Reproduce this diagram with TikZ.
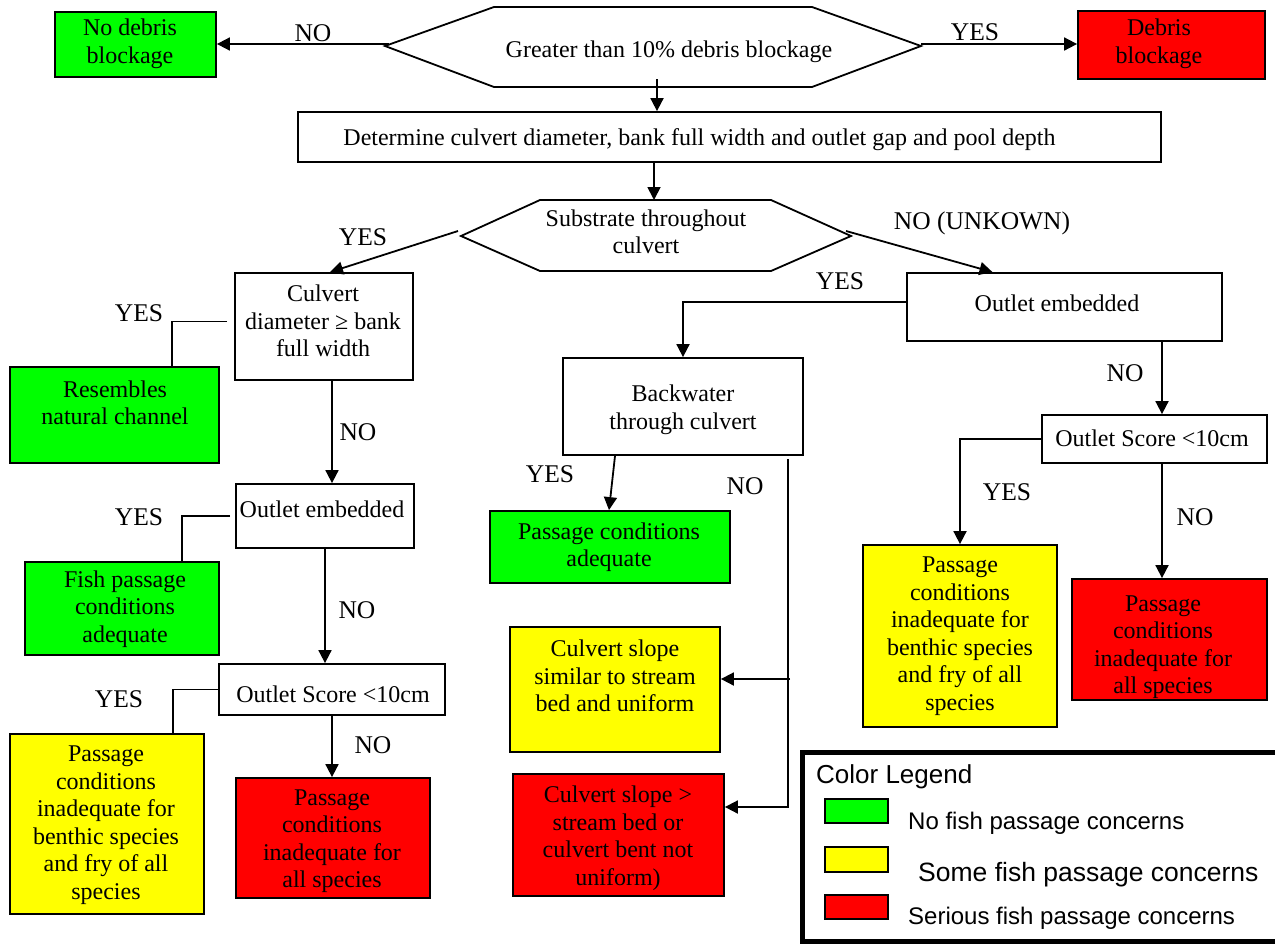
\documentclass[tikz,border=0pt]{standalone}
\usepackage{fontspec}
\setmainfont{Liberation Serif}
\newfontfamily\legfont{Liberation Sans}
\usetikzlibrary{arrows.meta,fit}
\definecolor{bgreen}{RGB}{0,255,0}
\definecolor{bred}{RGB}{255,0,0}
\definecolor{byellow}{RGB}{255,255,0}
\begin{document}
\begin{tikzpicture}[x=1pt,y=-1pt,
  box/.style={draw=black, line width=1.8pt, inner sep=0pt},
  txt/.style={align=center, inner sep=0pt, font=\fontsize{24}{27.5}\selectfont},
  lbl/.style={inner sep=0pt, font=\fontsize{25.5}{28}\selectfont},
  conn/.style={line width=1.8pt, line join=miter},
  arr/.style={conn, -{Triangle[length=13pt,width=13pt]}},
  legtxt/.style={anchor=base west, inner sep=0pt},
  swatch/.style={draw=black, line width=1.5pt, inner sep=0pt}
]
\useasboundingbox (0,0) rectangle (1275,943);
\fill[white] (0,0) rectangle (1275,943);

% ---------- top decision ----------
\coordinate (h1w) at (385,46);
\coordinate (h1e) at (921,46);
\coordinate (h1no) at (389,44);
\coordinate (h1yes) at (921,44);
\coordinate (h1s) at (657,79);
\draw[conn] (h1w) -- (494,7) -- (812,7) -- (h1e) -- (812,87) -- (494,87) -- cycle;
\node[txt] (h1-t) at (669,52) {Greater than 10\% debris blockage};

\node[box, fill=bgreen, fit={(55,12)(216,77)}] (nodeb) {};
\node[txt] (nodeb-t) at (130,44) {No debris\\blockage};
\node[box, fill=bred, fit={(1078,11)(1265,79)}] (deb) {};
\node[txt] (deb-t) at (1159,44) {Debris\\blockage};

\draw[arr] (h1no) -- (nodeb.east |- h1no);
\draw[arr] (h1yes) -- (deb.west |- h1yes);
\node[lbl] (l-no1) at (313,33) {NO};
\node[lbl] (l-yes1) at (975,32) {YES};

% ---------- determine ----------
\node[box, fit={(298,112)(1161,162)}] (det) {};
\node[txt] (det-t) at (699.5,140) {Determine culvert diameter, bank full width and outlet gap and pool depth};
\draw[arr] (h1s) -- (h1s |- det.north);

% ---------- substrate decision ----------
\coordinate (h2w) at (461,236);
\coordinate (h2e) at (851,236);
\coordinate (h2n) at (654,200);
\coordinate (h2yes) at (458,231);
\coordinate (h2no) at (846,231);
\draw[conn] (h2w) -- (540,200) -- (771,200) -- (h2e) -- (771,271) -- (540,271) -- cycle;
\node[txt] (h2-t) at (646,232) {Substrate throughout\\culvert};
\draw[arr] (h2n |- det.south) -- (h2n);

% ---------- left column ----------
\node[box, fit={(235,273)(413,380)}] (culv) {};
\node[txt] (culv-t) at (323,321) {Culvert\\diameter ≥ bank\\full width};
\node[box, fill=bgreen, fit={(10,367)(219,463)}] (res) {};
\node[txt] (res-t) at (115,403) {Resembles\\natural channel};
\node[box, fit={(236,484)(414,548)}] (oel) {};
\node[txt] (oel-t) at (322,509) {Outlet embedded};
\node[box, fill=bgreen, fit={(25,562)(219,655)}] (fish) {};
\node[txt] (fish-t) at (125,609) {Fish passage\\conditions\\adequate};
\node[box, fit={(219,664)(445,715)}] (osl) {};
\node[txt] (osl-t) at (333,694) {Outlet Score <10cm};
\node[box, fill=byellow, fit={(10,734)(204,914)}] (yl) {};
\node[txt] (yl-t) at (106,825) {Passage\\conditions\\inadequate for\\benthic species\\and fry of all\\species};
\node[box, fill=bred, fit={(236,778)(430,898)}] (rl) {};
\node[txt] (rl-t) at (332,841) {Passage\\conditions\\inadequate for\\all species};

\draw[arr] (h2yes) -- ([xshift=6pt]culv.north);
\node[lbl] (l-yes2) at (363,237) {YES};
\draw[conn] ([xshift=-7pt,yshift=5pt]culv.west) -| ([xshift=57.5pt]res.north);
\node[lbl] (l-yes3) at (139,313) {YES};
\draw[arr] ([xshift=8pt]culv.south) -- ([xshift=8pt]culv.south |- oel.north);
\node[lbl] (l-no3) at (358,432) {NO};
\draw[conn] ([xshift=-5pt]oel.west) -| ([xshift=60pt]fish.north);
\node[lbl] (l-yes4) at (139,517) {YES};
\draw[arr] (oel.south) -- (oel.south |- osl.north);
\node[lbl] (l-no4) at (357,610) {NO};
\draw[conn] (osl.west) -| ([xshift=66pt]yl.north);
\node[lbl] (l-yes5) at (119,699) {YES};
\draw[arr] (osl.south) -- (osl.south |- rl.north);
\node[lbl] (l-no5) at (373,745) {NO};

% ---------- right / middle ----------
\node[box, fit={(907,273)(1222,341)}] (oer) {};
\node[txt] (oer-t) at (1057,303) {Outlet embedded};
\node[box, fit={(563,358)(803,455)}] (back) {};
\node[txt] (back-t) at (683,410) {Backwater\\through culvert};
\node[box, fill=bgreen, fit={(490,511)(730,583)}] (gm) {};
\node[txt] (gm-t) at (609,547) {Passage conditions\\adequate};
\node[box, fill=byellow, fit={(510,627)(720,752)}] (ym) {};
\node[txt] (ym-t) at (615,676) {Culvert slope\\similar to stream\\bed and uniform};
\node[box, fill=bred, fit={(513,774)(724,896)}] (rm) {};
\node[txt] (rm-t) at (618,838) {Culvert slope >\\stream bed or\\culvert bent not\\uniform)};
\node[box, fit={(1042,415)(1267,463)}] (osr) {};
\node[txt] (osr-t) at (1152,438) {Outlet Score <10cm};
\node[box, fill=byellow, fit={(863,545)(1057,727)}] (yr) {};
\node[txt] (yr-t) at (960,636) {Passage\\conditions\\inadequate for\\benthic species\\and fry of all\\species};
\node[box, fill=bred, fit={(1072,579)(1267,700)}] (rr) {};
\node[txt] (rr-t) at (1163,647) {Passage\\conditions\\inadequate for\\all species};

\draw[arr] (h2no) -- ([xshift=-72pt]oer.north);
\node[lbl] (l-no2) at (982,223) {NO (UNKOWN)};
\draw[arr] ([yshift=5pt]oer.west) -| (back.north);
\node[lbl] (l-yes6) at (840,281) {YES};
\draw[arr] ([xshift=97.5pt]oer.south) -- ([xshift=97.5pt]oer.south |- osr.north);
\node[lbl] (l-no6) at (1125,373) {NO};
\draw[arr] (osr.west) -| (yr.north);
\node[lbl] (l-yes7) at (1007,492) {YES};
\draw[arr] ([xshift=7.5pt]osr.south) -- ([xshift=7.5pt]osr.south |- rr.north);
\node[lbl] (l-no7) at (1195,517) {NO};

\draw[arr] ([xshift=-68pt]back.south) -- ([xshift=-1pt]gm.north);
\node[lbl] (l-yes8) at (550,474) {YES};
\coordinate (bno1) at (788,459);
\coordinate (bno2) at (788,807);
\coordinate (bno3) at (790,679);
\draw[arr] (bno1) -- (bno2) -- (rm.east |- bno2);
\draw[arr] (bno3) -- (ym.east |- bno3);
\node[lbl] (l-no8) at (745,486) {NO};

% ---------- legend ----------
\node[draw=black, line width=5pt, inner sep=0pt, fill=white, fit={(802,752)(1300,941)}] (leg) {};
\node[legtxt, font=\legfont\fontsize{26}{30}\selectfont] (leg-t) at (816,783) {Color Legend};
\node[swatch, fill=bgreen, fit={(825,799)(888,823)}] (sw1) {};
\node[swatch, fill=byellow, fit={(825,847)(888,872)}] (sw2) {};
\node[swatch, fill=bred, fit={(825,895)(888,919)}] (sw3) {};
\node[legtxt, font=\legfont\fontsize{24}{28}\selectfont] (lt1) at (908,829) {No fish passage concerns};
\node[legtxt, font=\legfont\fontsize{26.5}{30}\selectfont] (lt2) at (918,881) {Some fish passage concerns};
\node[legtxt, font=\legfont\fontsize{24}{28}\selectfont] (lt3) at (908,924) {Serious fish passage concerns};
\end{tikzpicture}
\end{document}
